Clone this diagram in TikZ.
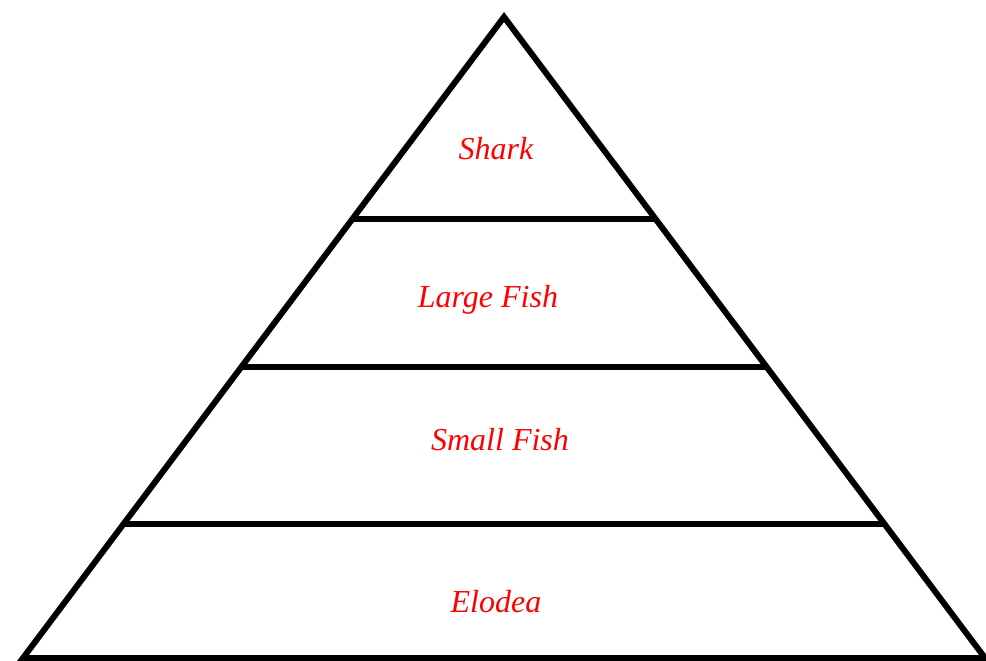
\documentclass[tikz,border=0pt]{standalone}
\usepackage{fontspec}
\setmainfont{Liberation Serif}
\usetikzlibrary{calc}
\begin{document}
\begin{tikzpicture}[x=1pt,y=-1pt,
  edge/.style={line width=6pt,black,line join=miter},
  tier/.style={line width=6pt,black},
  label/.style={text=red,font=\fontsize{32}{38}\selectfont\itshape,inner sep=0pt,anchor=base}]
\useasboundingbox (0,0) rectangle (986,661);
\coordinate (A) at (504,17);
\coordinate (B) at (23,658);
\coordinate (C) at (985,658);
\draw[edge] (A) -- (B) -- (C) -- cycle;
\coordinate (l1) at ($(A)!0.3151!(B)$);
\coordinate (r1) at ($(A)!0.3151!(C)$);
\coordinate (l2) at ($(A)!0.546!(B)$);
\coordinate (r2) at ($(A)!0.546!(C)$);
\coordinate (l3) at ($(A)!0.791!(B)$);
\coordinate (r3) at ($(A)!0.791!(C)$);
\draw[tier] (l1) -- (r1);
\draw[tier] (l2) -- (r2);
\draw[tier] (l3) -- (r3);
\node[label] (shark) at (496,159) {Shark};
\node[label] (large) at (488,307) {Large Fish};
\node[label] (small) at (500,450) {Small Fish};
\node[label] (elodea) at (496,612) {Elodea};
\end{tikzpicture}
\end{document}
